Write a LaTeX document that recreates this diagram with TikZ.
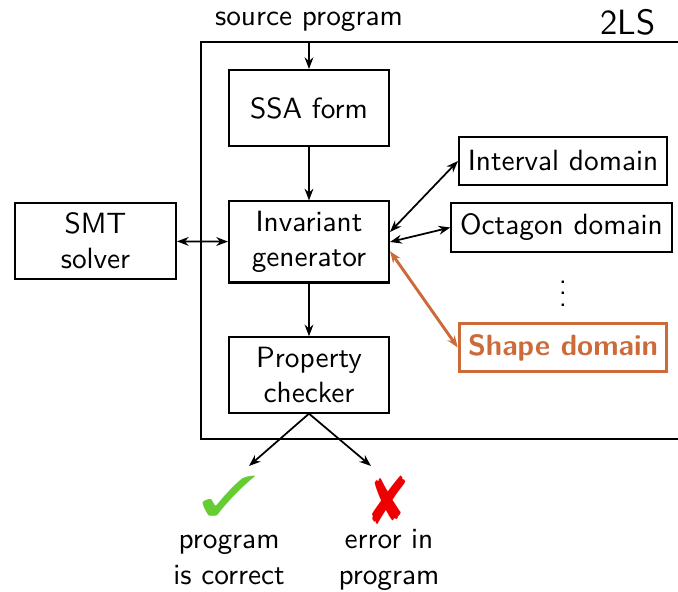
\documentclass[tikz,border=0pt]{standalone}
\usepackage{tikz}
\usetikzlibrary{arrows.meta,calc}
\usepackage{pifont}
\renewcommand{\familydefault}{\sfdefault}
\definecolor{shapedom}{HTML}{CC6A3A}
\definecolor{okgreen}{HTML}{66CC33}
\definecolor{errred}{HTML}{EE0000}

\begin{document}
\begin{tikzpicture}[>={Stealth[length=4pt,width=3pt]},
  box/.style={draw,line width=0.7pt,minimum width=1.92cm,align=center},
  dom/.style={draw,line width=0.7pt,minimum height=0.58cm,inner xsep=3pt},
  conn/.style={line width=0.6pt},
]
  \clip (0,0) rectangle (8.136,7.104);

  % the tool
  \draw[line width=0.7pt] (8.3,6.6) -- (2.412,6.6) -- (2.412,1.836) -- (8.3,1.836);
  \node[font=\large] (tool) at (7.536,6.84) {2LS};
  \node (src) at (3.708,6.84) {source program};

  \node[box,minimum height=0.91cm] (ssa) at (3.708,5.808) {SSA form};
  \node[box,minimum height=0.96cm] (inv) at (3.708,4.2) {Invariant\\generator};
  \node[box,minimum height=0.89cm] (prop) at (3.708,2.604) {Property\\checker};
  \node[box,minimum height=0.89cm,minimum width=1.93cm] (smt) at (1.146,4.212) {SMT\\solver};

  % domains
  \node[dom] (itv) at (6.756,5.172) {Interval domain};
  \node[dom] (oct) at (6.738,4.374) {Octagon domain};
  \node[inner sep=0pt] (more) at (6.756,3.684) {$\vdots$};
  \node[dom,shapedom,line width=1pt,font=\bfseries] (shp) at (6.756,2.934) {Shape domain};

  \draw[conn,->] (src) -- (ssa);
  \draw[conn,->] (ssa) -- (inv);
  \draw[conn,->] (inv) -- (prop);
  \draw[conn,<->] (smt) -- (inv);
  \draw[conn,<->] ($(inv.east)+(0,0.12)$) -- (itv.west);
  \draw[conn,<->] (inv.east) -- (oct.west);
  \draw[shapedom,line width=1pt,<->] ($(inv.east)+(0,-0.11)$) -- (shp.west);

  % verdicts
  \coordinate (okend) at (2.988,1.512);
  \coordinate (errend) at (4.452,1.512);
  \draw[conn,->] (prop.south) -- (okend);
  \draw[conn,->] (prop.south) -- (errend);
  \node[okgreen,font=\huge] (ok) at (2.748,1.152) {\scalebox{1.25}[0.92]{\ding{51}}};
  \node[errred,font=\Large] (err) at (4.668,1.104) {\scalebox{1.3}[1.6]{\ding{56}}};
  \node[align=center] (oktxt) at (2.748,0.384) {program\\is correct};
  \node[align=center] (errtxt) at (4.668,0.384) {error in\\program};
\end{tikzpicture}
\end{document}
